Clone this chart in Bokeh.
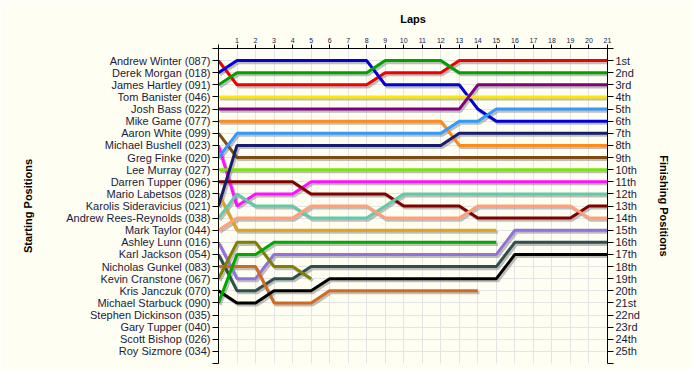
from bokeh.plotting import figure
from bokeh.models import Range1d, LinearAxis, FixedTicker
from bokeh.embed import file_html
from bokeh.resources import INLINE

laps_total = 21
lap_ticks = list(range(0, 22))
lap_labels = {i: str(i) for i in range(1, 22)}
lap_labels[0] = ""

starters = [
    "Andrew Winter (087)", "Derek Morgan (018)", "James Hartley (091)",
    "Tom Banister (046)", "Josh Bass (022)", "Mike Game (077)",
    "Aaron White (099)", "Michael Bushell (023)", "Greg Finke (020)",
    "Lee Murray (027)", "Darren Tupper (096)", "Mario Labetsos (028)",
    "Karolis Sideravicius (021)", "Andrew Rees-Reynolds (038)", "Mark Taylor (044)",
    "Ashley Lunn (016)", "Karl Jackson (054)", "Nicholas Gunkel (083)",
    "Kevin Cranstone (067)", "Kris Janczuk (070)", "Michael Starbuck (090)",
    "Stephen Dickinson (035)", "Gary Tupper (040)", "Scott Bishop (026)",
    "Roy Sizmore (034)",
]
finish_labels = [
    "1st", "2nd", "3rd", "4th", "5th", "6th", "7th", "8th", "9th", "10th",
    "11th", "12th", "13th", "14th", "15th", "16th", "17th", "18th", "19th", "20th",
    "21st", "22nd", "23rd", "24th", "25th",
]

# position per lap (lap 0 = grid), one list per driver in starting order
pos_winter     = [1, 3, 3, 3, 3, 3, 3, 3, 3, 2, 2, 2, 2, 1, 1, 1, 1, 1, 1, 1, 1, 1]
pos_morgan     = [2, 1, 1, 1, 1, 1, 1, 1, 1, 3, 3, 3, 3, 3, 5, 6, 6, 6, 6, 6, 6, 6]
pos_hartley    = [3, 2, 2, 2, 2, 2, 2, 2, 2, 1, 1, 1, 1, 2, 2, 2, 2, 2, 2, 2, 2, 2]
pos_banister   = [4, 4, 4, 4, 4, 4, 4, 4, 4, 4, 4, 4, 4, 4, 4, 4, 4, 4, 4, 4, 4, 4]
pos_bass       = [5, 5, 5, 5, 5, 5, 5, 5, 5, 5, 5, 5, 5, 5, 3, 3, 3, 3, 3, 3, 3, 3]
pos_game       = [6, 6, 6, 6, 6, 6, 6, 6, 6, 6, 6, 6, 6, 8, 8, 8, 8, 8, 8, 8, 8, 8]
pos_white      = [7, 9, 9, 9, 9, 9, 9, 9, 9, 9, 9, 9, 9, 9, 9, 9, 9, 9, 9, 9, 9, 9]
pos_bushell    = [8, 13, 12, 12, 12, 11, 11, 11, 11, 11, 11, 11, 11, 11, 11, 11, 11, 11, 11, 11, 11, 11]
pos_finke      = [9, 7, 7, 7, 7, 7, 7, 7, 7, 7, 7, 7, 7, 6, 6, 5, 5, 5, 5, 5, 5, 5]
pos_murray     = [10, 10, 10, 10, 10, 10, 10, 10, 10, 10, 10, 10, 10, 10, 10, 10, 10, 10, 10, 10, 10, 10]
pos_tupper     = [11, 11, 11, 11, 11, 12, 12, 12, 12, 12, 13, 13, 13, 13, 14, 14, 14, 14, 14, 14, 13, 13]
pos_labetsos   = [12, 15, 15, 15, 15, 15, 15, 15, 15, 15, 15, 15, 15, 15, 15, 15]
pos_sideravic  = [13, 8, 8, 8, 8, 8, 8, 8, 8, 8, 8, 8, 8, 7, 7, 7, 7, 7, 7, 7, 7, 7]
pos_rees       = [14, 12, 13, 13, 13, 14, 14, 14, 14, 13, 12, 12, 12, 12, 12, 12, 12, 12, 12, 12, 12, 12]
pos_taylor     = [15, 14, 14, 14, 14, 13, 13, 13, 13, 14, 14, 14, 14, 14, 13, 13, 13, 13, 13, 13, 14, 14]
pos_lunn       = [16, 19, 19, 17, 17, 17, 17, 17, 17, 17, 17, 17, 17, 17, 17, 17, 15, 15, 15, 15, 15, 15]
pos_jackson    = [17, 20, 20, 19, 19, 18, 18, 18, 18, 18, 18, 18, 18, 18, 18, 18, 16, 16, 16, 16, 16, 16]
pos_gunkel     = [18, 18, 18, 21, 21, 21, 20, 20, 20, 20, 20, 20, 20, 20, 20]
pos_cranstone  = [19, 16, 16, 18, 18, 19]
pos_janczuk    = [20, 21, 21, 20, 20, 20, 19, 19, 19, 19, 19, 19, 19, 19, 19, 19, 17, 17, 17, 17, 17, 17]
pos_starbuck   = [21, 17, 17, 16, 16, 16, 16, 16, 16, 16, 16, 16, 16, 16, 16, 16]

series = [
    (pos_winter, "#F00000"), (pos_morgan, "#0000D8"), (pos_hartley, "#00A000"),
    (pos_banister, "#FFE800"), (pos_bass, "#800080"), (pos_game, "#FF8C1A"),
    (pos_white, "#7F4A14"), (pos_bushell, "#FF10FF"), (pos_finke, "#3399FF"),
    (pos_murray, "#80E010"), (pos_tupper, "#800000"), (pos_labetsos, "#DAA520"),
    (pos_sideravic, "#1C1C6C"), (pos_rees, "#66C8A8"), (pos_taylor, "#FFA07A"),
    (pos_lunn, "#9370DB"), (pos_jackson, "#2F4F4F"), (pos_gunkel, "#D2691E"),
    (pos_cranstone, "#808000"), (pos_janczuk, "#000000"), (pos_starbuck, "#00A800"),
]

bg = "#FEFEF3"
txt = "#1A1A3C"

p = figure(
    frame_width=389, frame_height=315,
    min_border_left=218, min_border_top=48, min_border_right=85, min_border_bottom=6,
    x_range=Range1d(0, laps_total), y_range=Range1d(len(starters) + 1, 0),
    x_axis_location="above", output_backend="svg", toolbar_location=None,
    background_fill_color=bg, border_fill_color=bg, outline_line_color=None,
)

# top axis (laps)
xa = p.xaxis[0]
xa.ticker = FixedTicker(ticks=lap_ticks)
xa.major_label_overrides = lap_labels
xa.minor_tick_line_color = None
xa.major_tick_out = 4
xa.major_tick_in = 0
xa.major_label_text_font = "Liberation Sans"
xa.major_label_text_font_size = "7px"
xa.major_label_text_color = txt
xa.major_label_standoff = 2
xa.axis_label = "Laps"
xa.axis_label_text_font = "Liberation Sans"
xa.axis_label_text_font_style = "bold"
xa.axis_label_text_font_size = "11px"
xa.axis_label_text_color = "black"
xa.axis_label_standoff = 10
xa.axis_line_color = "black"

row_ticks = list(range(0, len(starters) + 2))
left_labels = {i + 1: s for i, s in enumerate(starters)}
left_labels[0] = ""
left_labels[len(starters) + 1] = ""
right_labels = {i + 1: s for i, s in enumerate(finish_labels)}
right_labels[0] = ""
right_labels[len(starters) + 1] = ""

ya = p.yaxis[0]
ya.ticker = FixedTicker(ticks=row_ticks)
ya.major_label_overrides = left_labels
ya.minor_tick_line_color = None
ya.major_tick_out = 6
ya.major_tick_in = 0
ya.major_label_text_font = "Liberation Sans"
ya.major_label_text_font_size = "11px"
ya.major_label_text_color = txt
ya.major_label_standoff = 2
ya.axis_label = "Starting Positions"
ya.axis_label_text_font = "Liberation Sans"
ya.axis_label_text_font_style = "bold"
ya.axis_label_text_font_size = "11px"
ya.axis_label_text_color = "black"
ya.axis_label_standoff = 29
ya.axis_line_color = "black"

ra = LinearAxis(
    ticker=FixedTicker(ticks=row_ticks), y_range_name="default",
    major_label_overrides=right_labels,
    minor_tick_line_color=None, major_tick_out=6, major_tick_in=0,
    major_label_text_font="Liberation Sans", major_label_text_font_size="11px",
    major_label_text_color=txt, major_label_standoff=2,
    axis_label="Finishing Positions", axis_label_text_font="Liberation Sans",
    axis_label_text_font_style="bold", axis_label_text_font_size="11px",
    axis_label_text_color="black", axis_label_standoff=15, axis_line_color="black",
)
p.add_layout(ra, "right")

p.xgrid.ticker = FixedTicker(ticks=lap_ticks)
p.ygrid.ticker = FixedTicker(ticks=row_ticks)
p.xgrid.grid_line_color = "#E4E4E4"
p.ygrid.grid_line_color = "#E4E4E4"

# drop shadows then lines
for pos, col in series:
    xs = [i + 0.09 for i in range(len(pos))]
    ys = [v + 0.17 for v in pos]
    p.line(xs, ys, line_color="#8A8A8A", line_alpha=0.55, line_width=3)
for pos, col in series:
    p.line(list(range(len(pos))), pos, line_color=col, line_width=3)

open("out.html", "w").write(file_html(p, INLINE))
